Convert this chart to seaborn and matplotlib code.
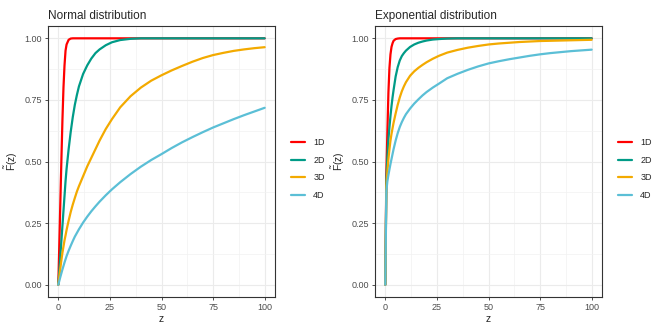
import matplotlib
matplotlib.use("Agg")
import matplotlib.pyplot as plt
import pandas as pd
import seaborn as sns

# values
z = [0, 0.5, 1, 1.5, 2, 2.5, 3, 3.5, 4, 5, 6, 7, 8, 9, 10, 12, 14, 16, 18, 20,
     23, 26, 30, 35, 40, 45, 50, 55, 60, 65, 70, 75, 80, 85, 90, 95, 100]

normal_1d = [0, 0.17, 0.34, 0.51, 0.67, 0.80, 0.89, 0.95, 0.975, 0.994, 0.999, 1, 1, 1, 1, 1, 1, 1, 1, 1,
             1, 1, 1, 1, 1, 1, 1, 1, 1, 1, 1, 1, 1, 1, 1, 1, 1]
normal_2d = [0, 0.06, 0.12, 0.18, 0.24, 0.30, 0.36, 0.42, 0.47, 0.55, 0.62, 0.68, 0.73, 0.77, 0.805,
             0.855, 0.89, 0.918, 0.94, 0.955, 0.972, 0.984, 0.993, 0.998, 1, 1, 1, 1, 1, 1, 1, 1, 1,
             1, 1, 1, 1]
normal_3d = [0, 0.035, 0.068, 0.10, 0.13, 0.155, 0.18, 0.20, 0.222, 0.26, 0.295, 0.325, 0.352, 0.378,
             0.40, 0.44, 0.48, 0.515, 0.55, 0.585, 0.632, 0.672, 0.72, 0.765, 0.80, 0.828, 0.85, 0.87,
             0.888, 0.905, 0.92, 0.932, 0.941, 0.949, 0.955, 0.96, 0.964]
normal_4d = [0, 0.016, 0.032, 0.047, 0.062, 0.076, 0.09, 0.103, 0.116, 0.138, 0.158, 0.177, 0.195, 0.21,
             0.225, 0.252, 0.276, 0.298, 0.318, 0.337, 0.363, 0.387, 0.416, 0.449, 0.479, 0.506, 0.53,
             0.555, 0.578, 0.599, 0.619, 0.638, 0.655, 0.672, 0.688, 0.703, 0.718]

exp_1d = [0, 0.45, 0.62, 0.78, 0.88, 0.935, 0.965, 0.98, 0.99, 0.997, 0.999, 1, 1, 1, 1, 1, 1, 1, 1, 1,
          1, 1, 1, 1, 1, 1, 1, 1, 1, 1, 1, 1, 1, 1, 1, 1, 1]
exp_2d = [0, 0.42, 0.52, 0.59, 0.64, 0.685, 0.725, 0.76, 0.79, 0.845, 0.883, 0.91, 0.928, 0.94, 0.95,
          0.965, 0.975, 0.982, 0.987, 0.991, 0.995, 0.997, 0.999, 1, 1, 1, 1, 1, 1, 1, 1, 1, 1,
          1, 1, 1, 1]
exp_3d = [0, 0.40, 0.46, 0.51, 0.55, 0.585, 0.612, 0.635, 0.657, 0.695, 0.73, 0.76, 0.785, 0.805, 0.822,
          0.848, 0.866, 0.88, 0.892, 0.903, 0.917, 0.929, 0.942, 0.953, 0.962, 0.969, 0.975, 0.979,
          0.982, 0.985, 0.987, 0.989, 0.99, 0.991, 0.992, 0.993, 0.994]
exp_4d = [0, 0.38, 0.42, 0.445, 0.468, 0.49, 0.51, 0.53, 0.55, 0.585, 0.615, 0.64, 0.66, 0.677, 0.692,
          0.715, 0.735, 0.752, 0.768, 0.782, 0.80, 0.816, 0.838, 0.856, 0.872, 0.886, 0.898, 0.907,
          0.915, 0.922, 0.929, 0.935, 0.94, 0.944, 0.948, 0.951, 0.954]

dims = ["1D", "2D", "3D", "4D"]
colours = ["#FF0000", "#009B87", "#F3AA00", "#5BBFD6"]
titles = ["Normal distribution", "Exponential distribution"]


def long_frame(series):
    rows = []
    for d, vals in zip(dims, series):
        rows.append(pd.DataFrame({"z": z, "F": vals, "dim": d}))
    return pd.concat(rows, ignore_index=True)


frames = [
    long_frame([normal_1d, normal_2d, normal_3d, normal_4d]),
    long_frame([exp_1d, exp_2d, exp_3d, exp_4d]),
]

sns.set_style("white")
plt.rcParams["font.family"] = ["Liberation Sans", "DejaVu Sans"]
plt.rcParams["mathtext.fontset"] = "custom"
plt.rcParams["mathtext.rm"] = "Liberation Sans"
plt.rcParams["mathtext.it"] = "Liberation Sans:italic"

fig = plt.figure(figsize=(6.64, 3.32), dpi=100)
W, H = 664, 332
ax_lefts = [48, 375]
legend_x = [287, 614]

for i, df in enumerate(frames):
    ax = fig.add_axes([ax_lefts[i] / W, (H - 297) / H, 227 / W, 271 / H])
    sns.lineplot(data=df, x="z", y="F", hue="dim", palette=colours,
                 linewidth=1.6, ax=ax, legend=False)
    ax.set_xlim(-5, 105)
    ax.set_ylim(-0.05, 1.05)
    ax.set_xticks([0, 25, 50, 75, 100])
    ax.set_yticks([0, 0.25, 0.5, 0.75, 1.0])
    ax.set_yticklabels(["0.00", "0.25", "0.50", "0.75", "1.00"])
    ax.set_xticks([12.5, 37.5, 62.5, 87.5], minor=True)
    ax.set_yticks([0.125, 0.375, 0.625, 0.875], minor=True)
    ax.grid(which="major", color="#EBEBEB", linewidth=0.8)
    ax.grid(which="minor", color="#F2F2F2", linewidth=0.5)
    ax.set_axisbelow(True)
    ax.tick_params(which="major", length=2.5, width=0.6, color="#333333",
                   labelsize=6.5, labelcolor="#4D4D4D", pad=2, bottom=True, left=True)
    ax.tick_params(which="minor", length=0)
    for s in ax.spines.values():
        s.set_color("#333333")
        s.set_linewidth(0.8)
    ax.set_xlabel("z", fontsize=7.5, labelpad=1)
    ax.set_ylabel(r"$\mathrm{\tilde{F}(z)}$", fontsize=7.5, labelpad=3)
    ax.set_title(titles[i], fontsize=8.5, loc="left", pad=5)

    handles = [plt.Line2D([], [], color=c, linewidth=1.6) for c in colours]
    fig.legend(handles, dims, loc="center left",
               bbox_to_anchor=(legend_x[i] / W, (H - 169) / H),
               frameon=False, fontsize=6.5, handlelength=1.6,
               labelspacing=0.95, handletextpad=0.9, borderaxespad=0)

fig.savefig("out.png", dpi=100)
